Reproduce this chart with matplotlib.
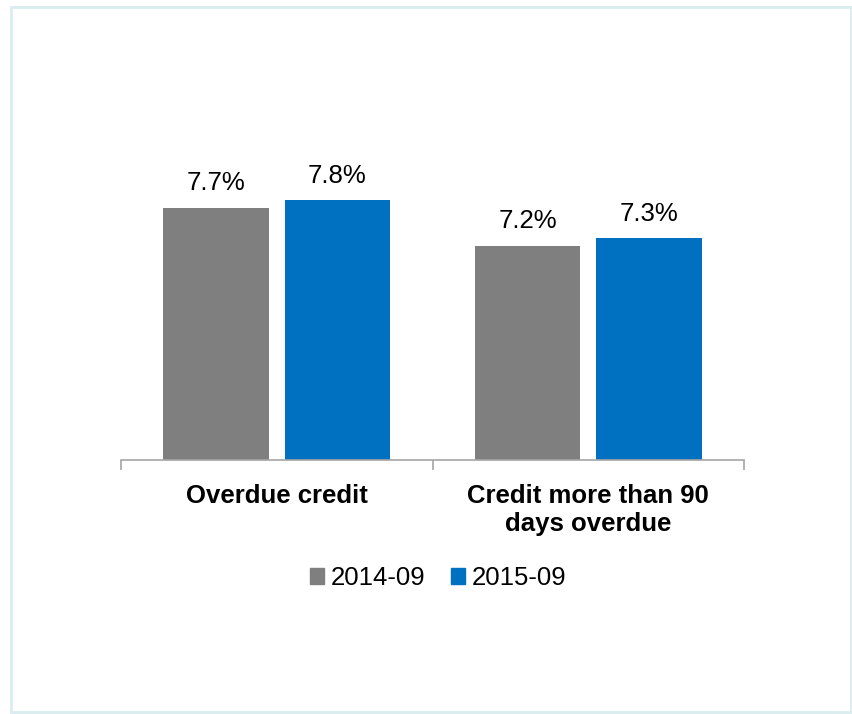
import matplotlib
matplotlib.use("Agg")
import matplotlib.pyplot as plt
from matplotlib.patches import Rectangle, Patch
import numpy as np

plt.rcParams['font.family'] = ['Liberation Sans', 'DejaVu Sans']

categories = ["Overdue credit", "Credit more than 90\ndays overdue"]
series_names = ["2014-09", "2015-09"]
values_2014 = [7.7, 7.2]
values_2015 = [7.8, 7.3]
colors = ["#7f7f7f", "#0070c0"]

W, H = 853, 714
fig = plt.figure(figsize=(W / 100, H / 100), dpi=100)

# figure border
fig.add_artist(Rectangle((11 / W, 1 - 712 / H), (851 - 11) / W, (712 - 7) / H,
                         transform=fig.transFigure, fill=False,
                         edgecolor="#d9ecf0", linewidth=2))

ax_left, ax_right, ax_base, ax_top = 121, 744, 460, 60
ax = fig.add_axes([ax_left / W, 1 - ax_base / H, (ax_right - ax_left) / W, (ax_base - ax_top) / H])

x = np.arange(len(categories))
bw = 0.34
off = 0.195
b1 = ax.bar(x - off, values_2014, bw, color=colors[0], label=series_names[0])
b2 = ax.bar(x + off, values_2015, bw, color=colors[1], label=series_names[1])

ax.set_xlim(-0.5, 1.5)
ax.set_ylim(4.384, 4.384 + (ax_base - ax_top) / 76.0)

for bars, vals in ((b1, values_2014), (b2, values_2015)):
    for rect, v in zip(bars, vals):
        ax.annotate(f"{v:.1f}%", (rect.get_x() + rect.get_width() / 2, v),
                    xytext=(0, 9), textcoords="offset points",
                    ha="center", va="bottom", fontsize=18.5, color="#000000")

for s in ["top", "right", "left"]:
    ax.spines[s].set_visible(False)
ax.spines["bottom"].set_color("#a6a6a6")
ax.spines["bottom"].set_linewidth(1.2)
ax.set_yticks([])
ax.set_xticks([-0.5, 0.5, 1.5], minor=False)
ax.set_xticklabels(["", "", ""])
ax.tick_params(axis="x", which="major", length=7, width=1.2, color="#a6a6a6", direction="out")
ax.set_xticks(x, minor=True)
ax.set_xticklabels(categories, minor=True, fontsize=18.5, fontweight="bold", linespacing=1.25)
ax.tick_params(axis="x", which="minor", length=0, pad=17)

handles = [Patch(color=colors[0]), Patch(color=colors[1])]
fig.legend(handles, series_names, loc="center", bbox_to_anchor=(438 / W, 1 - 578 / H),
           ncol=2, frameon=False, fontsize=18.5, handlelength=0.55, handleheight=0.55,
           handletextpad=0.25, columnspacing=1.0)

fig.savefig("out.png", dpi=100, facecolor="white")
